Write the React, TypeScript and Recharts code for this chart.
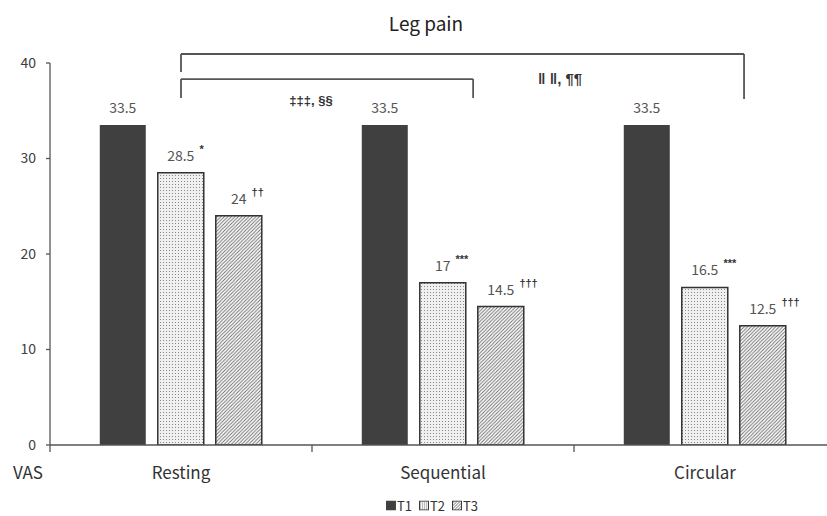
import React from 'react';
import { BarChart, Bar, XAxis, YAxis, ReferenceLine, ReferenceDot, LabelList } from 'recharts';

const categories = ['Resting', 'Sequential', 'Circular'];
const t1 = [33.5, 33.5, 33.5];
const t2 = [28.5, 17, 16.5];
const t3 = [24, 14.5, 12.5];
const t2Sig = ['*', '***', '***'];
const t3Sig = ['\u2020\u2020', '\u2020\u2020\u2020', '\u2020\u2020\u2020'];
const yTicks = [0, 10, 20, 30, 40];
const xPosTicks = [0, 0.5, 1, 1.5, 2, 2.5, 3];

// bracket annotations in data units (x: category index units, y: VAS)
const outerBracket = [
  { x: 0.5, y: 39.06 },
  { x: 0.5, y: 40.94 },
  { x: 2.649, y: 40.94 },
  { x: 2.649, y: 36.23 },
];
const innerBracket = [
  { x: 0.5, y: 36.34 },
  { x: 0.5, y: 38.32 },
  { x: 1.615, y: 38.32 },
  { x: 1.615, y: 36.34 },
];
const notes = [
  { x: 0.996, y: 36.1, text: '\u2021\u2021\u2021, \u00a7\u00a7', size: 13 },
  { x: 1.947, y: 38.4, text: '\u2016 \u2016, \u00b6\u00b6', size: 15 },
];

const data = categories.map((c, i) => ({ cat: c, pos: i + 0.5, t1: t1[i], t2: t2[i], t3: t3[i] }));

const FONT = '"Noto Sans CJK KR", "Noto Sans", sans-serif';
const SYM = '"Liberation Sans", "DejaVu Sans", sans-serif';
const GRAY = '#555';

let ctx: CanvasRenderingContext2D | null = null;
function measure(text: string, size: number) {
  if (!ctx) ctx = document.createElement('canvas').getContext('2d');
  if (!ctx) return text.length * size * 0.5;
  ctx.font = `${size}px ${FONT}`;
  return ctx.measureText(text).width;
}

const makeLabel = (sigs: string[] | null) => (props: any) => {
  const { x, y, width, value, index } = props;
  const cx = Number(x) + Number(width) / 2;
  const cy = Number(y) - 18;
  const label = String(value);
  const w = measure(label, 14);
  return (
    <g>
      <text x={cx} y={cy} textAnchor="middle" dominantBaseline="central" fontSize={14} fill="#555" fontFamily={FONT}>
        {label}
      </text>
      {sigs ? (
        <text x={cx + w / 2 + 5} y={cy - 6} textAnchor="start" dominantBaseline="central" fontSize={11} fontWeight="bold" fill="#333" fontFamily={SYM}>
          {sigs[index]}
        </text>
      ) : null}
    </g>
  );
};

const XTick = (props: any) => {
  const { x, y, payload } = props;
  const v = payload.value;
  if (Number.isInteger(v)) {
    return (
      <g>
        <line x1={x} x2={x} y1={y} y2={y + 7} stroke={GRAY} strokeWidth={1.3} />
        {v === 0 ? (
          <text x={x - 22} y={y + 26} textAnchor="middle" dominantBaseline="central" fontSize={17} fill="#333" fontFamily={FONT}>
            VAS
          </text>
        ) : null}
      </g>
    );
  }
  return (
    <text x={x} y={y + 26} textAnchor="middle" dominantBaseline="central" fontSize={17} fill="#333" fontFamily={FONT}>
      {categories[Math.floor(v)]}
    </text>
  );
};

const segments = (pts: { x: number; y: number }[]) =>
  pts.slice(1).map((p, i) => [pts[i], p]);

const LegendSwatch = ({ kind }: { kind: string }) => (
  <svg width={10} height={10} style={{ display: 'block' }}>
    <defs>
      <pattern id={`ld-${kind}`} width={2} height={2} patternUnits="userSpaceOnUse">
        <rect width={2} height={2} fill="#f2f2f2" />
        <rect x={1} y={1} width={1} height={1} fill="#888" />
      </pattern>
      <pattern id={`lh-${kind}`} width={3} height={3} patternUnits="userSpaceOnUse">
        <rect width={3} height={3} fill="#fff" />
        <path d="M-1,1 l2,-2 M0,3 l3,-3 M2,4 l2,-2" stroke="#444" strokeWidth={0.8} />
      </pattern>
    </defs>
    {kind === 't1' ? <rect width={10} height={10} fill="#404040" /> : null}
    {kind === 't2' ? <rect x={0.5} y={0.5} width={9} height={9} fill={`url(#ld-${kind})`} stroke="#333" /> : null}
    {kind === 't3' ? <rect x={0.5} y={0.5} width={9} height={9} fill={`url(#lh-${kind})`} stroke="#333" /> : null}
  </svg>
);

export default function App() {
  return (
    <div style={{ position: 'absolute', left: 0, top: 0, width: 827, height: 516, overflow: 'hidden', background: '#fff', fontFamily: FONT }}>
      <div style={{ position: 'absolute', left: 426, top: 22, transform: 'translate(-50%, -50%)', fontSize: 19, color: '#222', whiteSpace: 'nowrap' }}>
        Leg pain
      </div>
      <BarChart
        width={840}
        height={516}
        data={data}
        margin={{ top: 63, right: 4, bottom: 41, left: 0 }}
        barCategoryGap="19%"
        barGap={12}
      >
        <defs>
          <pattern id="dots" width={3} height={3} patternUnits="userSpaceOnUse">
            <rect width={3} height={3} fill="#f0f0f0" />
            <rect x={1} y={1} width={1} height={1} fill="#888" />
          </pattern>
          <pattern id="hatch" width={3.5} height={3.5} patternUnits="userSpaceOnUse">
            <rect width={3.5} height={3.5} fill="#fff" />
            <path d="M-1,1 l2,-2 M0,3.5 l3.5,-3.5 M2.5,4.5 l2,-2" stroke="#6a6a6a" strokeWidth={0.9} />
          </pattern>
        </defs>
        <XAxis xAxisId={0} dataKey="cat" hide height={0} />
        <XAxis
          xAxisId="num"
          dataKey="pos"
          type="number"
          domain={[0, 3]}
          ticks={xPosTicks}
          interval={0}
          allowDataOverflow
          height={30}
          tickLine={false}
          tickSize={0}
          tickMargin={0}
          tick={<XTick />}
          axisLine={{ stroke: GRAY, strokeWidth: 1.3 }}
        />
        <YAxis
          width={50}
          domain={[0, 40]}
          ticks={yTicks}
          interval={0}
          allowDataOverflow
          tickSize={4}
          tickMargin={10}
          tickLine={{ stroke: GRAY, strokeWidth: 1.3 }}
          axisLine={{ stroke: GRAY, strokeWidth: 1.3 }}
          tick={{ fontSize: 14, fill: '#404040', fontFamily: FONT }}
        />
        <Bar dataKey="t1" fill="#404040" isAnimationActive={false}>
          <LabelList dataKey="t1" content={makeLabel(null)} />
        </Bar>
        <Bar dataKey="t2" fill="url(#dots)" stroke="#333" strokeWidth={1.5} isAnimationActive={false}>
          <LabelList dataKey="t2" content={makeLabel(t2Sig)} />
        </Bar>
        <Bar dataKey="t3" fill="url(#hatch)" stroke="#333" strokeWidth={1.5} isAnimationActive={false}>
          <LabelList dataKey="t3" content={makeLabel(t3Sig)} />
        </Bar>
        {[...segments(outerBracket), ...segments(innerBracket)].map((seg, i) => (
          <ReferenceLine
            key={`b${i}`}
            xAxisId="num"
            segment={seg}
            stroke={GRAY}
            strokeWidth={1.8}
            ifOverflow="visible"
          />
        ))}
        {notes.map((n, i) => (
          <ReferenceDot
            key={`n${i}`}
            xAxisId="num"
            x={n.x}
            y={n.y}
            r={0}
            fill="none"
            stroke="none"
            ifOverflow="visible"
            label={(p: any) => {
              const vb = p.viewBox || {};
              const cx = (vb.x ?? 0) + (vb.width ?? 0) / 2;
              const cy = (vb.y ?? 0) + (vb.height ?? 0) / 2;
              return (
                <text x={cx} y={cy} textAnchor="middle" dominantBaseline="central" fontSize={n.size} fontWeight="bold" fill="#333" fontFamily={SYM}>
                  {n.text}
                </text>
              );
            }}
          />
        ))}
      </BarChart>
      <div style={{ position: 'absolute', left: 432, top: 505, transform: 'translate(-50%, -50%)', display: 'flex', alignItems: 'center', gap: 7, fontSize: 13, color: '#333', whiteSpace: 'nowrap' }}>
        <div style={{ display: 'flex', alignItems: 'center', gap: 1 }}><LegendSwatch kind="t1" />T1</div>
        <div style={{ display: 'flex', alignItems: 'center', gap: 1 }}><LegendSwatch kind="t2" />T2</div>
        <div style={{ display: 'flex', alignItems: 'center', gap: 1 }}><LegendSwatch kind="t3" />T3</div>
      </div>
    </div>
  );
}
